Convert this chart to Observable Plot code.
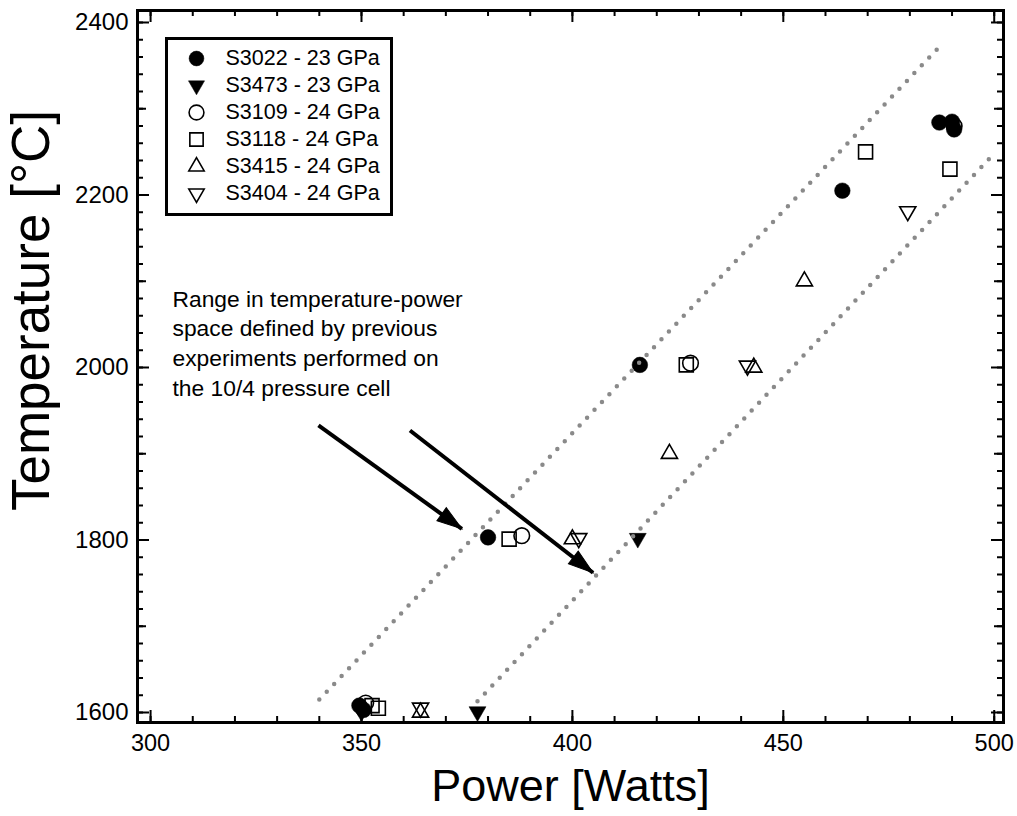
<!DOCTYPE html>
<html><head><meta charset="utf-8">
<script src="https://cdn.jsdelivr.net/npm/d3@7"></script>
<script src="https://cdn.jsdelivr.net/npm/@observablehq/plot@0.6"></script>
<style>
body{margin:0;background:#fff;}
#wrap{position:relative;width:1017px;height:816px;}
#legend{position:absolute;left:164px;top:36px;}
</style></head><body><div id="wrap"><div id="main"></div><div id="legend"></div></div>
<script>
// ---- data ----
const seriesNames = ["S3022 - 23 GPa","S3473 - 23 GPa","S3109 - 24 GPa","S3118 - 24 GPa","S3415 - 24 GPa","S3404 - 24 GPa"];
const S3022_power = [349.5, 350.5, 380, 416, 464, 487, 490, 490.5];
const S3022_temp  = [1608, 1603, 1803, 2003, 2205, 2284, 2285, 2276];
const S3473_power = [350, 377.5, 415.5];
const S3473_temp  = [1601, 1601, 1802];
const S3109_power = [351, 388, 428, 490.5];
const S3109_temp  = [1611, 1805, 2005, 2280];
const S3118_power = [352.5, 354, 385, 427, 469.5, 489.5];
const S3118_temp  = [1608, 1605, 1801, 2003, 2250, 2230];
const S3415_power = [364, 400, 443, 423, 455];
const S3415_temp  = [1600, 1801, 2000, 1900, 2100];
const S3404_power = [364, 401.5, 441.5, 479.5];
const S3404_temp  = [1605.5, 1802, 2002, 2181];
const bandUpper_power = [340, 488];
const bandUpper_temp  = [1615, 2377];
const bandLower_power = [377.5, 499];
const bandLower_temp  = [1613, 2243];
const annotationText = "Range in temperature-power\nspace defined by previous\nexperiments performed on\nthe 10/4 pressure cell";
const annotationPower = [305.2];
const annotationTemp  = [2095];
const arrowPower1 = [339.8, 361.5];
const arrowTemp1  = [1933, 1927];
const arrowPower2 = [373.8, 404.9];
const arrowTemp2  = [1813, 1762];
const xTickLabels = [300, 350, 400, 450, 500];
const yTickLabels = [1600, 1800, 2000, 2200, 2400];

// ---- styles ----
const sqrt3 = Math.sqrt(3);
const triDown = {draw(context, size) {
  const y = Math.sqrt(size / (sqrt3 * 3));
  context.moveTo(0, y * 2);
  context.lineTo(-sqrt3 * y, -y);
  context.lineTo(sqrt3 * y, -y);
  context.closePath();
}};
// arrowhead: tip at origin, pointing up before rotation
const arrowHead = {draw(context) {
  context.moveTo(0, 0);
  context.lineTo(-8, 25);
  context.lineTo(8, 25);
  context.closePath();
}};
const arrowRotate = [125.8, 127.8];
const seriesSymbols = ["circle", triDown, "circle", "square", "triangle", triDown];
const seriesFilled  = [true, true, false, false, false, false];
const seriesRadius  = [7.8, 6.3, 7.8, 7.9, 6.0, 6.0];
const seriesData = [
  [S3022_power, S3022_temp], [S3473_power, S3473_temp], [S3109_power, S3109_temp],
  [S3118_power, S3118_temp], [S3415_power, S3415_temp], [S3404_power, S3404_temp]
].map(([p, t]) => p.map((v, i) => ({power: v, temp: t[i]})));

const font = "'Liberation Sans', Arial, sans-serif";
const W = 1017, H = 816, mL = 137, mR = 14, mT = 10, mB = 94;
const fw = W - mL - mR, fh = H - mT - mB;

const xMinor = d3.range(300, 501, 10);
const xMajor = d3.range(300, 501, 50);
const yMinor = d3.range(1600, 2401, 20);
const yMid = d3.range(1700, 2401, 200);
const yMajor = d3.range(1600, 2401, 200);

const dotMarks = seriesData.map((data, i) => Plot.dot(data, {
  x: "power", y: "temp", symbol: seriesSymbols[i], r: seriesRadius[i],
  fill: seriesFilled[i] ? "black" : "none",
  stroke: "black", strokeWidth: seriesFilled[i] ? 0.5 : 1.6
}));

const band = (p, t) => p.map((v, i) => ({power: v, temp: t[i]}));

const chart = Plot.plot({
  width: W, height: H,
  marginLeft: mL, marginRight: mR, marginTop: mT, marginBottom: mB,
  style: {fontFamily: font, background: "white", color: "black"},
  x: {domain: [296.9, 502.2]},
  y: {domain: [1588.4, 2413.9]},
  marks: [
    // ticks (inward, mirrored)
    Plot.tickX(xMinor, {x: d => d, insetTop: fh - 6, strokeWidth: 2}),
    Plot.tickX(xMinor, {x: d => d, insetBottom: fh - 6, strokeWidth: 2}),
    Plot.tickX(xMajor, {x: d => d, insetTop: fh - 12, strokeWidth: 2}),
    Plot.tickX(xMajor, {x: d => d, insetBottom: fh - 12, strokeWidth: 2}),
    Plot.tickY(yMinor, {y: d => d, insetRight: fw - 6, strokeWidth: 2}),
    Plot.tickY(yMinor, {y: d => d, insetLeft: fw - 6, strokeWidth: 2}),
    Plot.tickY(yMid, {y: d => d, insetRight: fw - 9, strokeWidth: 2}),
    Plot.tickY(yMid, {y: d => d, insetLeft: fw - 9, strokeWidth: 2}),
    Plot.tickY(yMajor, {y: d => d, insetRight: fw - 12, strokeWidth: 2}),
    Plot.tickY(yMajor, {y: d => d, insetLeft: fw - 12, strokeWidth: 2}),
    Plot.axisX({ticks: xTickLabels, tickFormat: "d", tickSize: 0, tickPadding: 12, fontSize: 23.5, label: null}),
    Plot.axisY({ticks: yTickLabels, tickFormat: "d", tickSize: 0, tickPadding: 9, fontSize: 24, label: null}),
    ...dotMarks,
    Plot.line(band(bandUpper_power, bandUpper_temp), {x: "power", y: "temp", stroke: "#8a8a8a", strokeWidth: 4.5, strokeDasharray: "0,10.8", strokeLinecap: "round"}),
    Plot.line(band(bandLower_power, bandLower_temp), {x: "power", y: "temp", stroke: "#8a8a8a", strokeWidth: 4.5, strokeDasharray: "0,10.8", strokeLinecap: "round"}),
    Plot.text([annotationText], {x: annotationPower, y: annotationTemp, textAnchor: "start", lineAnchor: "top", fontSize: 22.8, lineHeight: 1.3, fill: "black"}),
    Plot.link([0, 1], {x1: i => arrowPower1[i], y1: i => arrowTemp1[i], x2: i => arrowPower2[i], y2: i => arrowTemp2[i], stroke: "black", strokeWidth: 4}),
    Plot.dot([0, 1], {x: i => arrowPower2[i], y: i => arrowTemp2[i], symbol: arrowHead, rotate: i => arrowRotate[i], fill: "black", stroke: "black", strokeWidth: 1}),
    Plot.text(["Power [Watts]"], {frameAnchor: "bottom", lineAnchor: "middle", textAnchor: "middle", dy: 64, fontSize: 45, fill: "black"}),
    Plot.text(["Temperature [°C]"], {frameAnchor: "left", textAnchor: "middle", lineAnchor: "middle", dx: -105, dy: -56, rotate: -90, fontSize: 53, fill: "black"}),
    Plot.frame({stroke: "black", strokeWidth: 3})
  ]
});
document.getElementById("main").append(chart);

// ---- legend ----
const legendRows = seriesNames.map((name, i) => ({name, i}));
const legend = Plot.plot({
  width: 229, height: 180, marginTop: 2, marginBottom: 2, marginLeft: 2, marginRight: 2,
  style: {fontFamily: font, background: "white"},
  y: {type: "point", domain: seriesNames, padding: 0, insetTop: 19, insetBottom: 20, axis: null},
  marks: [
    ...legendRows.map(row => Plot.dot([row], {
      y: "name", frameAnchor: "left", dx: 30,
      symbol: seriesSymbols[row.i], r: seriesRadius[row.i] * 0.95,
      fill: seriesFilled[row.i] ? "black" : "none", stroke: "black",
      strokeWidth: seriesFilled[row.i] ? 0.5 : 1.6
    })),
    Plot.text(legendRows, {y: "name", text: "name", frameAnchor: "left", dx: 59, textAnchor: "start", fontSize: 21.5, fill: "black"}),
    Plot.frame({stroke: "black", strokeWidth: 3})
  ]
});
document.getElementById("legend").append(legend);
</script></body></html>
